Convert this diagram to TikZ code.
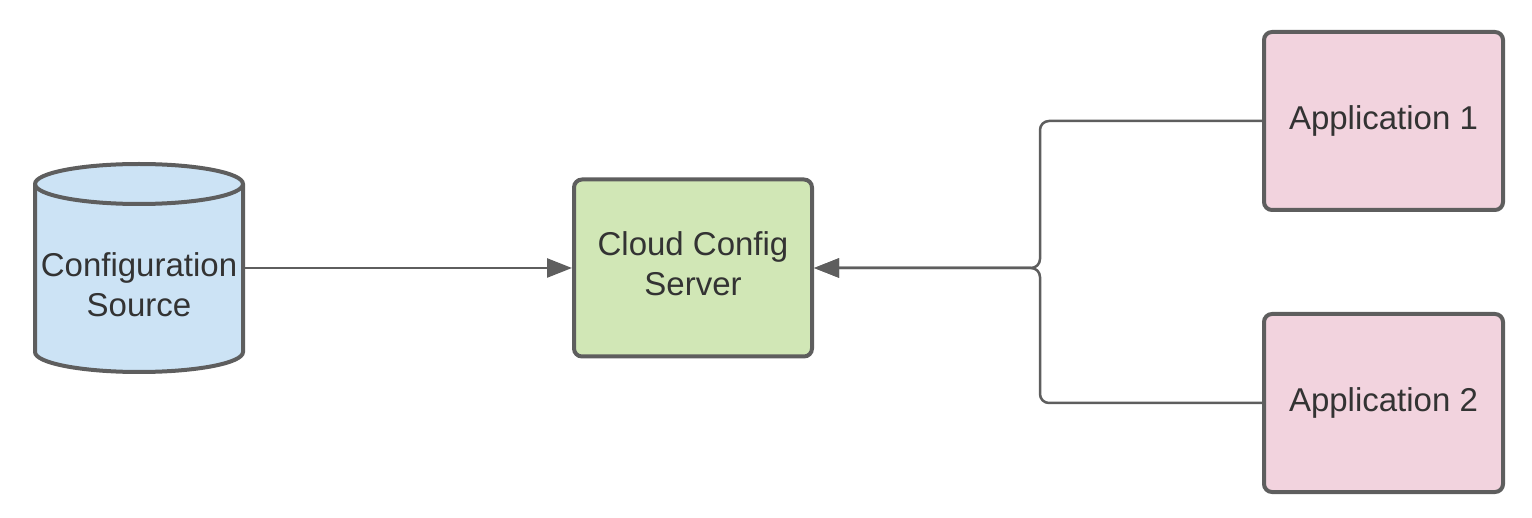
\documentclass[tikz,border=0pt]{standalone}
\usepackage{fontspec}
\setmainfont{Liberation Sans}
\usetikzlibrary{arrows.meta}
\definecolor{strokeg}{HTML}{5E5E5E}
\definecolor{txt}{HTML}{333333}
\definecolor{srcblue}{HTML}{CCE3F5}
\definecolor{srvgreen}{HTML}{D1E7B6}
\definecolor{apppink}{HTML}{F2D3DE}
\tikzset{
  box/.style={draw=strokeg, line width=4pt, rounded corners=8pt, align=center,
    text=txt, font=\fontsize{33}{40}\selectfont},
  lbl/.style={align=center, text=txt, font=\fontsize{33}{40}\selectfont},
  conn/.style={draw=strokeg, line width=2.5pt, rounded corners=9pt,
    -{Triangle[length=25pt,width=19pt]}},
}
\begin{document}
\begin{tikzpicture}[x=1pt,y=1pt]
\useasboundingbox (0,0) rectangle (1532,-518);
% cylinder
\filldraw[fill=srcblue, draw=strokeg, line width=4pt]
  (35,-184) -- (35,-352) arc[start angle=180,end angle=360,x radius=104pt,y radius=20pt]
  -- (243,-184) arc[start angle=0,end angle=180,x radius=104pt,y radius=20pt] -- cycle;
\draw[draw=strokeg, line width=4pt]
  (35,-184) arc[start angle=180,end angle=360,x radius=104pt,y radius=20pt];
\node[minimum width=211pt, minimum height=210pt, inner sep=0pt] (src) at (139,-268) {};
\node[lbl] (srctext) at (139,-285) {Configuration\\Source};
% server
\node[box, fill=srvgreen, minimum width=238pt, minimum height=177pt] (ccs) at (693,-268) {};
\node[lbl] (ccstext) at (693,-264) {Cloud Config\\Server};
% apps
\node[box, fill=apppink, minimum width=239pt, minimum height=178pt] (app1) at (1383.5,-121) {Application 1};
\node[box, fill=apppink, minimum width=239pt, minimum height=178pt] (app2) at (1383.5,-403) {Application 2};
% connectors
\coordinate (jn) at (1040,-268);
\draw[conn] (src.east) -- (ccs.west);
\draw[conn] (app1.west) -| (jn) -- (ccs.east);
\draw[conn] (app2.west) -| (jn) -- (ccs.east);
\end{tikzpicture}
\end{document}
